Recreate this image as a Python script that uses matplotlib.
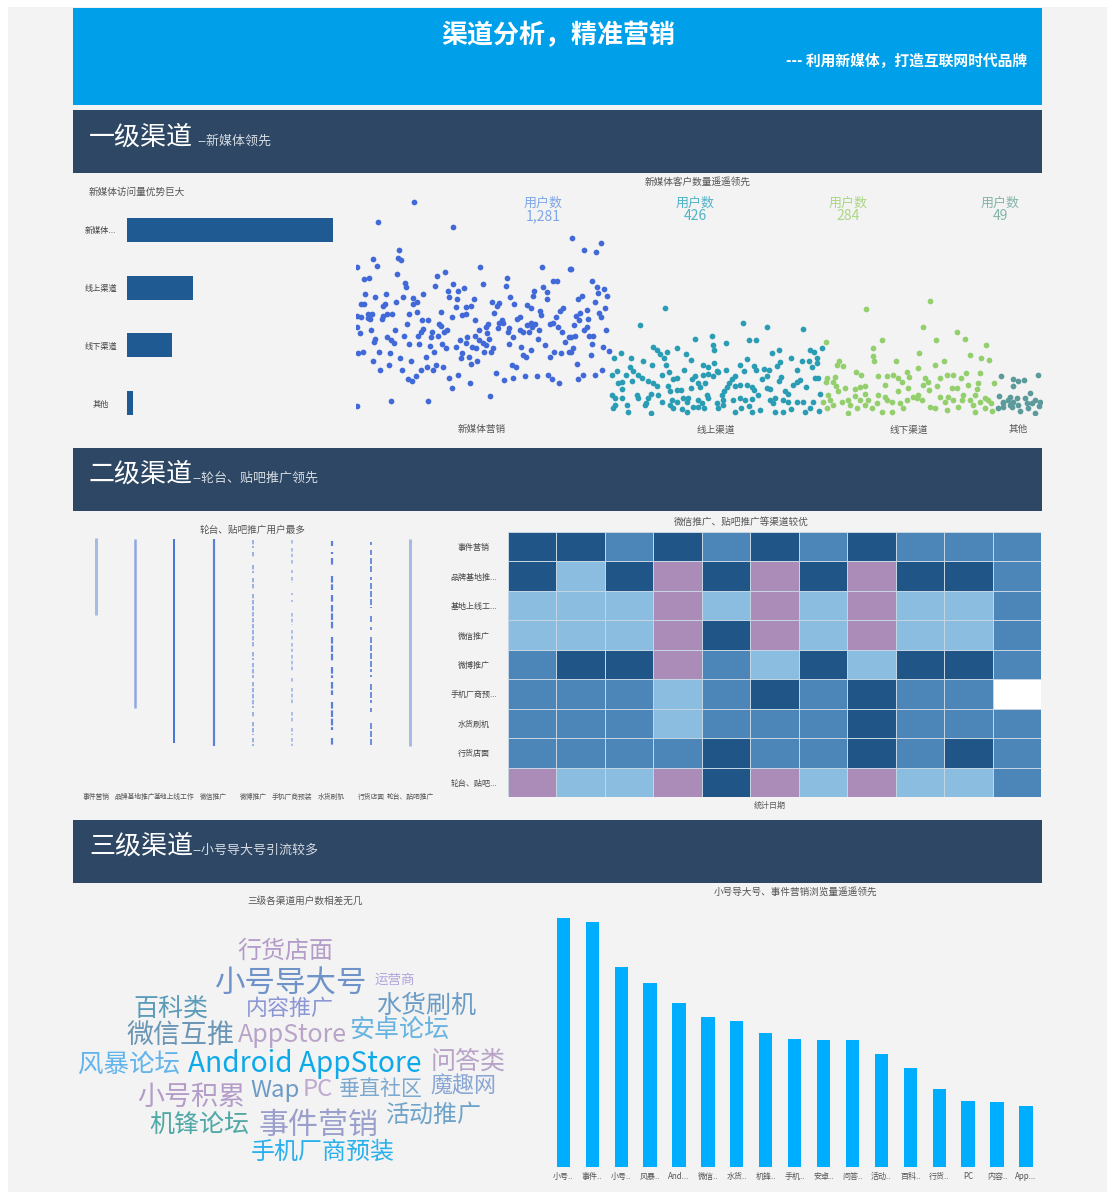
import numpy as np
import matplotlib
matplotlib.use("Agg")
import matplotlib.pyplot as plt
from matplotlib.colors import ListedColormap
from matplotlib.patches import Rectangle

plt.rcParams['font.family'] = ['Noto Sans CJK SC', 'DejaVu Sans']

W, H = 1107, 1192

# ---- level-one bars
channels = ['新媒体...', '线上渠道', '线下渠道', '其他']
channel_visits = [206.6, 66.3, 45, 6.3]

# ---- jitter scatter (position, height)
scatter_names = ['新媒体营销', '线上渠道', '线下渠道', '其他']
scatter_users = ['1,281', '426', '284', '49']
blue_left = [(1031,96),(925,156),(1148,170),(988,240),(910,268),(983,264),(993,270),(922,289),(860,292),(1230,292),(1417,292),(1500,297),(980,312),(1124,307),(1100,317),(883,328),(896,324),(1312,324),(1004,340),(1008,352),(1096,348),(1150,343),(1240,343),(1307,349),(1182,353),(1133,362),(1163,363),(886,372),(947,372),(1060,372),(916,381),(1000,381),(1138,381),(1160,386),(1211,386),(1321,381),(1420,352),(1430,366),(1392,363),(1390,377),(1450,333),(1462,333),(1430,386),(1028,385),(1040,396),(1030,402),(978,396),(945,402),(940,408),(872,402),(882,401),(1267,396),(1288,400),(1282,408),(1332,401),(1372,406),(1382,413),(1187,412),(1158,412),(1203,408),(1112,427),(1042,427),(1018,432),(965,432),(950,433),(938,437),(935,446),(895,432),(905,432),(893,444),(900,447),(860,437),(872,442),(1145,441),(1175,436),(1187,433),(1272,428),(1410,422),(1414,436),(1350,441),(1342,446),(1480,415),(1470,423),(1458,442),(1057,451),(1073,451),(1216,451),(1296,451),(1288,458),(1010,461),(1108,461),(1112,468),(1253,461),(1248,470),(1300,458),(1382,458),(1395,461),(1370,466),(1385,471),(1440,461),(1450,458),(1463,470),(862,470),(976,480),(903,480),(1060,478),(1052,485),(1130,480),(1122,485),(1085,485),(1228,480),(1285,475),(1318,475),(1315,487),(1350,480),(1360,485),(1378,485),(1408,480),(1475,485),(870,490),(1002,497),(1045,497),(1082,502),(1105,497),(1252,490),(1214,497),(1190,502),(1330,502),(1403,506),(1498,500),(950,502),(963,510),(973,520),(916,506),(912,516),(1170,511),(1228,511),(1258,506),(1188,520),(1238,520),(1248,526),(1318,521),(1017,521),(1048,521),(1117,521),(1080,528),(1157,530),(1206,530),(1218,533),(1128,535),(1268,535),(1262,545),(1243,545),(1352,530),(1425,526),(1485,516),(1092,545),(878,545),(864,550),(927,545),(961,550),(1382,540),(1177,550),(1172,565),(1197,560),(1358,555),(1368,560),(1452,545),(1440,560),(1472,550),(1497,545),(990,565),(1067,560),(908,574),(1022,574),(1222,574),(1202,581),(957,585),(1070,591),(1098,586),(1120,591),(1053,600),(1090,600),(1327,586),(1338,591),(930,600),(995,600),(1278,609),(1165,615),(1365,619),(1402,617),(1435,615),(1038,619),(1137,625),(1330,624),(1303,631),(1447,628),(1015,628),(1025,634),(1200,638),(1467,638),(1146,653),(964,693),(1075,693),(1261,679),(860,708)]
blue_right = [(5,205),(92,218),(42,240),(78,245),(4,297),(65,333),(82,352),(103,358),(85,368),(112,377),(35,377),(24,388),(74,396),(105,413),(50,420),(30,428),(88,428),(18,437),(93,442),(55,447),(28,451),(12,465),(52,470),(42,480),(107,480),(14,497),(58,497),(70,497),(2,502),(67,521),(100,530),(117,543),(10,535),(2,545),(62,555),(21,581),(95,600),(38,614),(76,614),(24,628)]
teal = [(285,413),(210,465),(520,460),(591,470),(698,476),(375,507),(425,497),(467,520),(428,525),(433,540),(538,511),(558,511),(250,530),(262,540),(290,545),(270,553),(320,535),(347,553),(283,563),(363,570),(220,573),(247,585),(287,585),(400,585),(432,580),(415,592),(152,549),(133,563),(183,563),(180,591),(188,604),(140,604),(125,614),(168,614),(296,605),(343,600),(275,614),(510,585),(532,568),(553,587),(557,600),(467,600),(440,604),(522,604),(582,596),(596,600),(607,549),(627,540),(664,563),(695,573),(630,575),(622,587),(682,600),(720,540),(732,545),(755,535),(740,563),(717,573),(742,578),(727,590),(735,623),(745,623),(632,620),(628,633),(575,628),(590,618),(495,618),(400,614),(415,612),(428,618),(445,605),(375,618),(365,628),(322,623),(308,628),(205,614),(215,625),(185,633),(155,635),(145,640),(235,633),(248,640),(262,648),(295,648),(300,662),(320,660),(333,660),(363,655),(390,650),(405,640),(385,640),(485,628),(478,640),(470,650),(462,662),(455,675),(495,648),(510,645),(530,645),(545,650),(552,660),(565,675),(590,655),(600,658),(645,662),(655,672),(680,635),(690,630),(670,645),(708,652),(750,672),(155,658),(125,675),(135,685),(155,685),(200,675),(205,685),(243,672),(235,685),(228,700),(265,675),(275,695),(305,690),(320,695),(340,685),(355,685),(350,695),(385,690),(410,675),(415,685),(395,700),(440,700),(460,690),(490,690),(510,685),(525,690),(547,688),(600,690),(615,685),(640,690),(655,695),(680,695),(700,695),(730,695),(610,700),(135,705),(128,715),(170,705),(175,725),(225,705),(243,728),(300,705),(310,715),(335,718),(350,725),(370,712),(385,712),(402,715),(445,715),(460,705),(495,727),(512,715),(537,707),(545,725),(570,720),(615,725),(640,725),(662,718),(705,725),(720,715),(747,722)]
green = [(888,418),(1080,392),(1059,470),(1162,485),(935,511),(1097,511),(1184,507),(768,516),(910,535),(1248,525),(1047,549),(908,558),(912,573),(1200,554),(1234,564),(1258,569),(978,573),(1095,586),(1123,573),(808,573),(800,585),(820,587),(1045,595),(857,607),(872,614),(925,618),(950,618),(970,615),(1010,607),(1018,620),(1065,625),(1110,623),(1130,615),(1148,615),(1174,625),(1188,608),(1230,608),(795,620),(770,625),(767,635),(790,635),(798,648),(985,625),(995,635),(1075,635),(1060,645),(1100,648),(1145,655),(1160,655),(1195,645),(1225,640),(1272,638),(885,648),(870,650),(855,658),(805,662),(825,655),(1015,655),(985,662),(945,645),(1078,660),(1220,658),(775,675),(925,675),(945,680),(855,678),(885,672),(895,690),(1045,675),(1030,680),(1110,680),(1135,680),(1180,675),(1215,675),(1245,685),(1255,690),(780,690),(815,695),(835,690),(870,690),(950,690),(965,695),(990,700),(1010,690),(1055,690),(1040,685),(1125,695),(1150,690),(1175,690),(1200,690),(1230,695),(1262,700),(760,695),(790,705),(770,715),(840,705),(885,705),(920,700),(1000,715),(1080,710),(1095,715),(1130,720),(1165,710),(1210,705),(1245,715),(835,728),(860,715),(905,715),(935,725),(965,727),(1215,727),(1265,722)]
dark_teal = [(1292,619),(1405,614),(1328,628),(1345,633),(1362,630),(1330,648),(1288,678),(1380,670),(1320,682),(1340,685),(1365,685),(1395,690),(1410,695),(1300,695),(1315,690),(1330,695),(1285,715),(1300,710),(1325,710),(1345,705),(1370,700),(1385,700),(1408,708),(1350,722),(1375,715),(1395,728),(1300,700),(1320,705)]

# ---- level-two strips (covered user ranges)
strip_names = ['事件营销', '品牌基地推广', '基地上线工作', '微信推广', '微博推广', '手机厂商预装', '水货刷机', '行货店面', '轮台、贴吧推广']
strip_spans = [
    [(70,300)],
    [(72,580)],
    [(72,685)],
    [(72,692)],
    [(75,100),(110,130),(150,175),(190,225),(238,400),(412,435),(445,490),(500,580),(590,610),(620,660),(670,692)],
    [(75,90),(100,125),(135,150),(165,175),(185,205),(235,240),(255,260),(295,330),(345,375),(385,410),(420,470),(490,500),(520,570),(590,625),(640,660),(670,692)],
    [(78,92),(112,118),(128,150),(182,225),(240,260),(270,345),(365,440),(455,490),(500,540),(560,645),(668,690)],
    [(82,90),(105,120),(128,170),(185,195),(205,280),(303,320),(335,345),(365,470),(480,487),(508,565),(580,590),(625,690)],
    [(72,692)],
]

# ---- heatmap levels: 0 light, 1 mid, 2 dark, 3 purple
heat_rows = ['事件营销', '品牌基地推...', '基地上线工...', '微信推广', '微博推广', '手机厂商预...', '水货刷机', '行货店面', '轮台、贴吧...']
N = np.nan
heat_levels = [
    [2,2,1,2,1,2,1,2,1,1,1],
    [2,0,2,3,2,3,2,3,2,2,1],
    [0,0,0,3,0,3,0,3,0,0,1],
    [0,0,0,3,2,3,0,3,0,0,1],
    [1,2,2,3,1,0,2,0,2,2,1],
    [1,1,1,0,1,2,1,2,1,1,N],
    [1,1,1,0,1,1,1,2,1,1,1],
    [1,1,1,1,2,1,1,2,1,2,1],
    [3,0,0,3,2,3,0,3,0,0,1],
]

# ---- word cloud
words = ['行货店面','小号导大号','运营商','百科类','内容推广','水货刷机','微信互推','AppStore','安卓论坛','风暴论坛','Android AppStore','问答类','小号积累','Wap','PC','垂直社区','魔趣网','机锋论坛','事件营销','活动推广','手机厂商预装']
word_x = [285,290,395,171,290,426,181,292,399,129,305,468,191,275,318,381,463,199,319,433,323]
word_y = [949,981,978,1007,1007,1004,1033,1033,1028,1063,1062,1060,1095,1088,1088,1087,1084,1124,1124,1113,1150]
word_px = [24,30.5,13.5,25,22,25,27,25,25,25.5,28,25,27,24,24,21,22,25,30,24,24]
word_col = ['#b49cc8','#6f93c9','#b3a5dd','#5b9bb8','#8b96d4','#6b9cc6','#6b96b5','#b9a3c9','#66b3e0','#62b4ec','#0da9e8','#b8a2c8','#b49cc8','#6e9bc5','#c0a9d0','#7ea9cf','#8aa6d4','#4fa7a6','#9a9fcb','#6da3c9','#2ab0ec']

# ---- level-three bars
third_labels = ['小号..','事件..','小号..','风暴..','And...','微信..','水货..','机锋..','手机..','安卓..','问答..','活动..','百科..','行货..','PC','内容..','App...']
third_values = [249,245,200,184,164,150,146,134,128,127,127,113,99,78,66,65,61]

def pt(px):
    return px * 72 / 100

fig = plt.figure(figsize=(W/100, H/100), dpi=100, facecolor='white')

def axpx(x0, y0, x1, y1):
    ax = fig.add_axes([x0/W, 1-y1/H, (x1-x0)/W, (y1-y0)/H])
    ax.patch.set_alpha(0)
    for s in ax.spines.values():
        s.set_visible(False)
    return ax

bg = axpx(0, 0, W, H)
bg.set_xlim(0, W); bg.set_ylim(H, 0); bg.axis('off')
bg.add_patch(Rectangle((8, 7), W-8, H-7, color='#f3f3f3', lw=0))
bg.add_patch(Rectangle((73, 8), 969, 97, color='#009fea', lw=0))
for y in (110, 448, 820):
    bg.add_patch(Rectangle((73, y), 969, 62.5, color='#2d4764', lw=0))

def label(x, y, s, px, color='#555555', ha='center', **kw):
    bg.text(x, y + 2, s, fontsize=pt(px), color=color, ha=ha, va='center', **kw)

label(558, 34, '渠道分析，精准营销', 26, 'white', fontweight='bold')
label(1027, 59, '--- 利用新媒体，打造互联网时代品牌', 14.8, 'white', ha='right', fontweight='bold')
for y, head, subx, sub in ((135, '一级渠道', 197, '--新媒体领先'),
                           (472, '二级渠道', 192, '--轮台、贴吧推广领先'),
                           (844, '三级渠道', 192, '--小号导大号引流较多')):
    label(89, y, head, 26, 'white', ha='left')
    label(subx, y+4, sub, 13, '#d5dbe2', ha='left')

label(137, 190, '新媒体访问量优势巨大', 9.7)
label(698, 180, '新媒体客户数量遥遥领先', 9.7)
label(253, 528, '轮台、贴吧推广用户最多', 9.7)
label(741, 520, '微信推广、贴吧推广等渠道较优', 9.7)
label(770, 803, '统计日期', 8)
label(305, 899, '三级各渠道用户数相差无几', 9.6)
label(795, 890, '小号导大号、事件营销浏览量遥遥领先', 9.6)

# level-one bars
ax = axpx(126.7, 201, 333.3, 432)
ypos = np.arange(len(channels))
ax.barh(ypos, channel_visits, height=24/58, color='#1f5a92')
ax.set_xlim(0, 206.6); ax.set_ylim(3.5, -0.5)
ax.set_xticks([]); ax.set_yticks(ypos, channels)
ax.tick_params(axis='y', length=0, pad=pt(26), labelsize=pt(8.2), labelcolor='#444444')
for t in ax.get_yticklabels():
    t.set_ha('center')

# jitter scatter
ax = axpx(356, 190, 1042, 415)
ax.set_xlim(-642, 1416); ax.set_ylim(0, 675)
groups = [(np.array(blue_left) - (1500, 0), '#4169d8'),
          (np.array(blue_right), '#4169d8'),
          (np.array(teal), '#2a9db5'),
          (np.array(green), '#94cf6d'),
          (np.array(dark_teal), '#5c9a9b')]
for pts, col in groups:
    ax.scatter(pts[:, 0], 735 - pts[:, 1], s=17, color=col, lw=0)
ax.set_xticks([-264, 438, 1017, 1344], scatter_names)
ax.set_yticks([])
ax.tick_params(axis='x', length=0, pad=pt(10), labelsize=pt(9.6), labelcolor='#555555')
for x, val, col in zip((543, 695, 848, 1000), scatter_users,
                       ('#7fa6e6', '#4fb3c8', '#a9d882', '#84b5aa')):
    label(x, 201, '用户数', 13, col)
    label(x, 214, val, 14, col)

# level-two strips
ax = axpx(76, 530, 430, 760)
ax.set_xlim(-0.5, 8.5); ax.set_ylim((760-515)*3, (530-515)*3)
strip_w = [3, 2.5, 2, 2.2, 2, 1.8, 2.2, 2, 3]
strip_c = ['#a5bbe6', '#8ea9e2', '#4a76d8', '#5b82da', '#9ab2e6', '#a5bbe8', '#5a80dc', '#6f90dc', '#a5bbe6']
strip_dash = ['solid', 'solid', 'solid', 'solid', (0, (2.2, 0.8)), (0, (2, 1.2)), (0, (3, 0.8)), (0, (3, 1)), 'solid']
for i, spans in enumerate(strip_spans):
    arr = np.array(spans)
    ax.vlines(np.full(len(arr), i), arr[:, 0], arr[:, 1], colors=strip_c[i],
              lw=pt(strip_w[i]), linestyles=strip_dash[i])
ax.set_xticks(range(len(strip_names)), strip_names)
ax.set_yticks([])
ax.tick_params(axis='x', length=0, pad=pt(33), labelsize=pt(6.8), labelcolor='#555555')

# heatmap
ax = axpx(508, 532, 1041, 797)
ax.patch.set_alpha(1); ax.set_facecolor('white')
cmap = ListedColormap(['#8bbde0', '#4c85b8', '#1f5587', '#ab8bb8'])
mesh = ax.pcolormesh(np.ma.masked_invalid(np.array(heat_levels, dtype=float)), cmap=cmap, vmin=-0.5, vmax=3.5,
                     edgecolors='#c4d4e2', linewidth=0.5)
ax.set_ylim(len(heat_rows), 0); ax.set_xticks([])
ax.set_yticks(np.arange(len(heat_rows)) + 0.5, heat_rows)
ax.tick_params(axis='y', length=0, pad=pt(34), labelsize=pt(8), labelcolor='#444444')
for t in ax.get_yticklabels():
    t.set_ha('center')

# word cloud
for w, x, y, px, c in zip(words, word_x, word_y, word_px, word_col):
    label(x, y, w, px, c)

# level-three bars
ax = axpx(548.9, 915, 1040.4, 1167)
xpos = np.arange(len(third_values))
ax.bar(xpos, third_values, width=0.46, color='#00aeff')
ax.set_xlim(-0.5, 16.5); ax.set_ylim(0, 252)
ax.set_xticks(xpos, third_labels); ax.set_yticks([])
ax.tick_params(axis='x', length=0, pad=pt(5), labelsize=pt(8), labelcolor='#555555')

fig.savefig('out.png', dpi=100)
